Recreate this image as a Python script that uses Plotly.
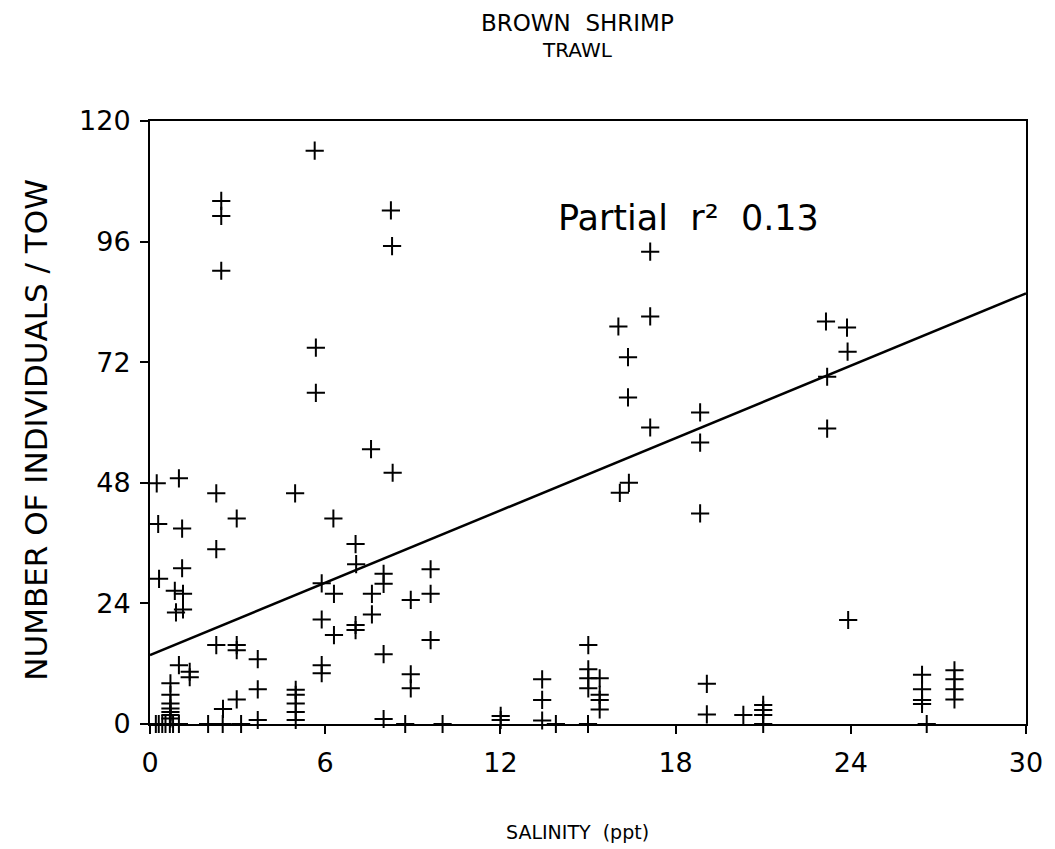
import plotly.graph_objects as go
import numpy as np

# Salinity (ppt) and number of individuals per tow
salinity = [
    5.64, 2.44, 2.44, 2.44, 8.25, 8.29, 5.68, 5.68,
    0.23, 0.99, 2.27, 4.97, 7.57, 8.31,
    0.28, 1.10, 2.97, 6.28,
    2.27, 7.04, 7.06,
    1.10, 0.31, 5.88,
    8.00, 8.00, 9.61, 9.61,
    6.30, 7.60, 8.93,
    0.85, 1.13, 1.13, 0.89,
    5.88, 7.60, 7.04, 7.04, 6.30, 9.61,
    2.27, 2.97, 2.97, 8.00, 3.69,
    0.99, 1.36, 1.36,
    5.88, 5.88, 8.93, 8.93,
    3.69, 2.97, 2.50,
    4.99, 4.99, 4.99, 4.99, 4.99,
    0.70, 0.70, 0.70, 0.70, 0.70, 0.70, 0.70,
    3.69, 8.00,
    0.20, 0.30, 0.42, 0.53, 0.68, 0.79, 0.99, 1.99, 2.49, 3.12,
    8.74, 10.02, 13.90, 15.00, 21.00, 26.60,
    17.13, 17.13, 16.04, 16.37, 16.37, 17.13, 18.84, 18.84, 16.40, 16.09, 18.84,
    15.01, 15.01, 15.01, 15.01, 15.40, 15.40, 15.40, 15.40,
    13.43, 13.43, 13.43, 12.01, 12.01,
    19.07, 19.07,
    23.15, 23.87, 23.89, 23.19, 23.19, 23.91,
    20.32, 21.00, 21.00, 21.00,
    26.44, 26.44, 26.44, 26.44,
    27.55, 27.55, 27.55, 27.55,
]
individuals = [
    114.1, 104.1, 101.1, 90.2, 102.2, 95.1, 74.9, 65.9,
    47.9, 48.9, 45.9, 45.9, 54.7, 50.0,
    39.8, 38.9, 40.9, 40.9,
    34.8, 35.8, 31.8,
    31.0, 28.9, 28.0,
    29.9, 27.9, 30.8, 25.9,
    25.9, 25.9, 24.7,
    26.5, 25.9, 22.8, 22.2,
    20.8, 21.8, 19.7, 18.7, 17.7, 16.7,
    15.7, 15.7, 14.7, 13.9, 12.9,
    11.7, 10.4, 9.3,
    11.7, 10.1, 9.9, 7.1,
    6.9, 4.9, 3.0,
    6.8, 5.8, 4.1, 2.4, 0.8,
    8.1, 5.8, 4.1, 3.1, 2.4, 1.8, 1.1,
    0.8, 1.0,
    0, 0, 0, 0, 0, 0, 0, 0, 0, 0,
    0, 0, 0, 0, 0, 0,
    94.0, 81.1, 79.1, 73.0, 65.0, 59.0, 62.0, 56.0, 48.0, 46.0, 41.9,
    15.7, 10.9, 9.1, 7.1, 9.1, 5.8, 4.8, 2.9,
    8.9, 4.8, 0.7, 1.6, 0.8,
    8.0, 1.9,
    80.1, 78.9, 74.1, 69.1, 58.8, 20.7,
    1.8, 3.8, 2.8, 1.8,
    9.8, 6.9, 4.8, 4.0,
    10.7, 8.9, 6.9, 4.9,
]

# Fitted regression line (intercept, slope) and its x extent
fit_intercept = 13.7
fit_slope = 2.4
fit_range = [0, 30]

x_ticks = [0, 6, 12, 18, 24, 30]
y_ticks = [0, 24, 48, 72, 96, 120]

FONT = "DejaVu Sans"
line_x = np.array(fit_range, dtype=float)
line_y = fit_intercept + fit_slope * line_x

fig = go.Figure()
fig.add_trace(go.Scatter(
    x=salinity, y=individuals, mode="markers",
    marker=dict(symbol="cross-thin", size=13, color="black",
                line=dict(color="black", width=2)),
    cliponaxis=False, showlegend=False,
))
fig.add_trace(go.Scatter(
    x=line_x, y=line_y, mode="lines",
    line=dict(color="black", width=2.5), showlegend=False,
))

axis_common = dict(ticks="outside", ticklen=8, tickwidth=2, tickcolor="black",
                   showline=True, linewidth=2, linecolor="black", mirror=True,
                   showgrid=False, zeroline=False,
                   tickfont=dict(size=27, family=FONT))

# The page body adds an 8 px margin, so the figure is 8 px smaller than the window
fig.update_layout(
    width=1047, height=841,
    margin=dict(l=142, r=24, t=113, b=125),
    plot_bgcolor="white", paper_bgcolor="white",
    font=dict(family=FONT, color="black"),
    xaxis=dict(range=[0, 30], tickvals=x_ticks, ticklabelstandoff=6, **axis_common),
    yaxis=dict(range=[0, 120], tickvals=y_ticks, ticklabelstandoff=4, **axis_common),
    annotations=[
        dict(text="BROWN  SHRIMP", xref="paper", yref="paper", x=0.488, y=1.1625,
             xanchor="center", yanchor="middle",
             showarrow=False, font=dict(size=23, family=FONT)),
        dict(text="TRAWL", xref="paper", yref="paper", x=0.488, y=1.1177,
             xanchor="center", yanchor="middle",
             showarrow=False, font=dict(size=20, family=FONT)),
        dict(text="Partial  r²  0.13", xref="x", yref="y", x=18.45, y=100.7,
             xanchor="center", yanchor="middle",
             showarrow=False, font=dict(size=35, family=FONT)),
        dict(text="NUMBER OF INDIVIDUALS / TOW", xref="paper", yref="paper",
             x=-0.1305, y=0.4876, textangle=-90, xanchor="center", yanchor="middle",
             showarrow=False, font=dict(size=31, family=FONT)),
        dict(text="SALINITY  (ppt)", xref="paper", yref="paper", x=0.488, y=-0.179,
             xanchor="center", yanchor="middle",
             showarrow=False, font=dict(size=19, family=FONT)),
    ],
)

fig.write_html("out.html")
